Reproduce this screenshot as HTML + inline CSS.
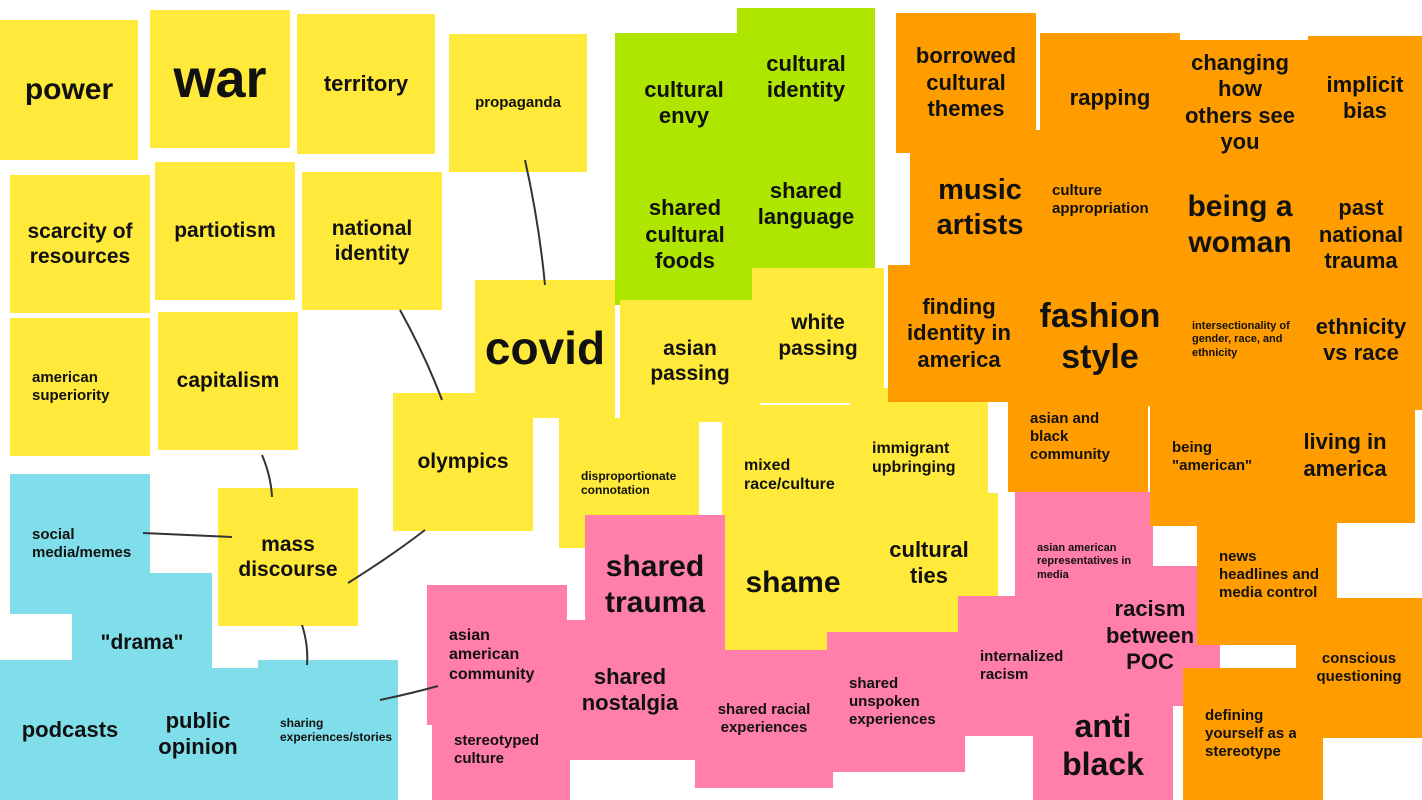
<!DOCTYPE html>
<html><head><meta charset="utf-8">
<style>
html,body{margin:0;padding:0;background:#fff;width:1422px;height:800px;overflow:hidden;position:relative;font-family:"Liberation Sans",sans-serif;}
.n{position:absolute;display:flex;align-items:center;justify-content:center;text-align:center;font-weight:bold;color:#111;line-height:1.2;box-sizing:border-box;padding:6px;}
.n.l{justify-content:flex-start;text-align:left;padding-left:22px;}
.y{background:#FFE93B}.g{background:#AEE600}.o{background:#FF9D00}.p{background:#FF7EAA}.c{background:#80DEEA}
svg{position:absolute;left:0;top:0;}
</style></head><body>
<div id="board"></div>
<script>
const notes=[
["power",0,20,138,140,"y",30,0],["war",150,10,140,138,"y",54,0],["territory",297,14,138,140,"y",22,0],["propaganda",449,34,138,138,"y",15,0],
["scarcity of<br>resources",10,175,140,138,"y",21,0],["partiotism",155,162,140,138,"y",21,0],["national<br>identity",302,172,140,138,"y",21,0],
["american<br>superiority",10,318,140,138,"y",15,1],["capitalism",158,312,140,138,"y",21,0],
["cultural<br>envy",615,33,138,140,"g",22,0],["cultural<br>identity",737,8,138,138,"g",22,0],["shared<br>language",737,140,138,128,"g",22,0],["shared<br>cultural<br>foods",615,165,140,140,"g",22,0],
["covid",475,280,140,138,"y",46,0],["asian<br>passing",620,300,140,122,"y",21,0],["white<br>passing",752,268,132,135,"y",21,0],
["olympics",393,393,140,138,"y",21,0],["disproportionate<br>connotation",559,418,140,130,"y",12,1],["mixed<br>race/culture",722,405,140,140,"y",16,1],["immigrant<br>upbringing",850,388,138,140,"y",16,1],
["social<br>media/memes",10,474,140,140,"c",15,1],["\"drama\"",72,573,140,140,"c",21,0],["podcasts",0,660,140,140,"c",22,0],["public<br>opinion",128,668,140,132,"c",22,0],["sharing<br>experiences/stories",258,660,140,140,"c",12,1],
["mass<br>discourse",218,488,140,138,"y",21,0],
["cultural<br>ties",860,493,138,140,"y",22,0],["shame",724,515,138,135,"y",30,0],["shared<br>trauma",585,515,140,140,"p",30,0],
["asian<br>american<br>community",427,585,140,140,"p",16,1],["shared<br>nostalgia",560,620,140,140,"p",22,0],["stereotyped<br>culture",432,700,138,100,"p",15,1],
["shared racial<br>experiences",695,650,138,138,"p",15,0],["shared<br>unspoken<br>experiences",827,632,138,140,"p",15,1],
["asian american<br>representatives in<br>media",1015,492,138,140,"p",11,1],["internalized<br>racism",958,596,140,140,"p",15,1],["racism<br>between<br>POC",1080,566,140,140,"p",22,0],["anti<br>black",1033,690,140,110,"p",32,0],
["borrowed<br>cultural<br>themes",896,13,140,140,"o",22,0],["rapping",1040,33,140,130,"o",22,0],["changing<br>how<br>others see<br>you",1170,40,140,125,"o",22,0],["implicit<br>bias",1308,36,114,124,"o",22,0],
["music<br>artists",910,150,140,115,"o",29,0],["culture<br>appropriation",1030,130,140,140,"o",15,1],["being a<br>woman",1165,160,150,130,"o",30,0],["past<br>national<br>trauma",1300,160,122,150,"o",22,0],
["finding<br>identity in<br>america",888,265,142,137,"o",22,0],["fashion<br>style",1030,268,140,138,"o",34,0],["intersectionality of<br>gender, race, and<br>ethnicity",1170,270,140,140,"o",11,1],["ethnicity<br>vs race",1300,270,122,140,"o",22,0],
["asian and<br>black<br>community",1008,382,140,110,"o",15,1],["being<br>\"american\"",1150,388,140,138,"o",15,1],["living in<br>america",1275,388,140,135,"o",22,0],
["news<br>headlines and<br>media control",1197,505,140,140,"o",15,1],["defining<br>yourself as a<br>stereotype",1183,668,140,132,"o",15,1],["conscious<br>questioning",1296,598,126,140,"o",15,0]
];
const links=[[525,160,545,285],[400,310,442,400],[262,455,272,497],[143,533,232,537],[425,530,348,583],[302,625,307,665],[380,700,438,686]];
const board=document.getElementById('board');
notes.forEach(n=>{
 const d=document.createElement('div');
 d.className='n '+n[5]+(n[7]?' l':'');
 d.style.cssText=`left:${n[1]}px;top:${n[2]}px;width:${n[3]}px;height:${n[4]}px;font-size:${n[6]}px;`;
 d.innerHTML=n[0];
 
 
 board.appendChild(d);
});
const ns='http://www.w3.org/2000/svg';
const svg=document.createElementNS(ns,'svg');
svg.setAttribute('width','1422');svg.setAttribute('height','800');


links.forEach(l=>{
 const p=document.createElementNS(ns,'path');
 const mx=(l[0]+l[2])/2+4,my=(l[1]+l[3])/2;
 p.setAttribute('d',`M${l[0]},${l[1]} Q${mx},${my} ${l[2]},${l[3]}`);
 p.setAttribute('stroke','#333');p.setAttribute('stroke-width','2');p.setAttribute('fill','none');
 
 
 svg.appendChild(p);
});
board.appendChild(svg);
</script>
</body></html>
